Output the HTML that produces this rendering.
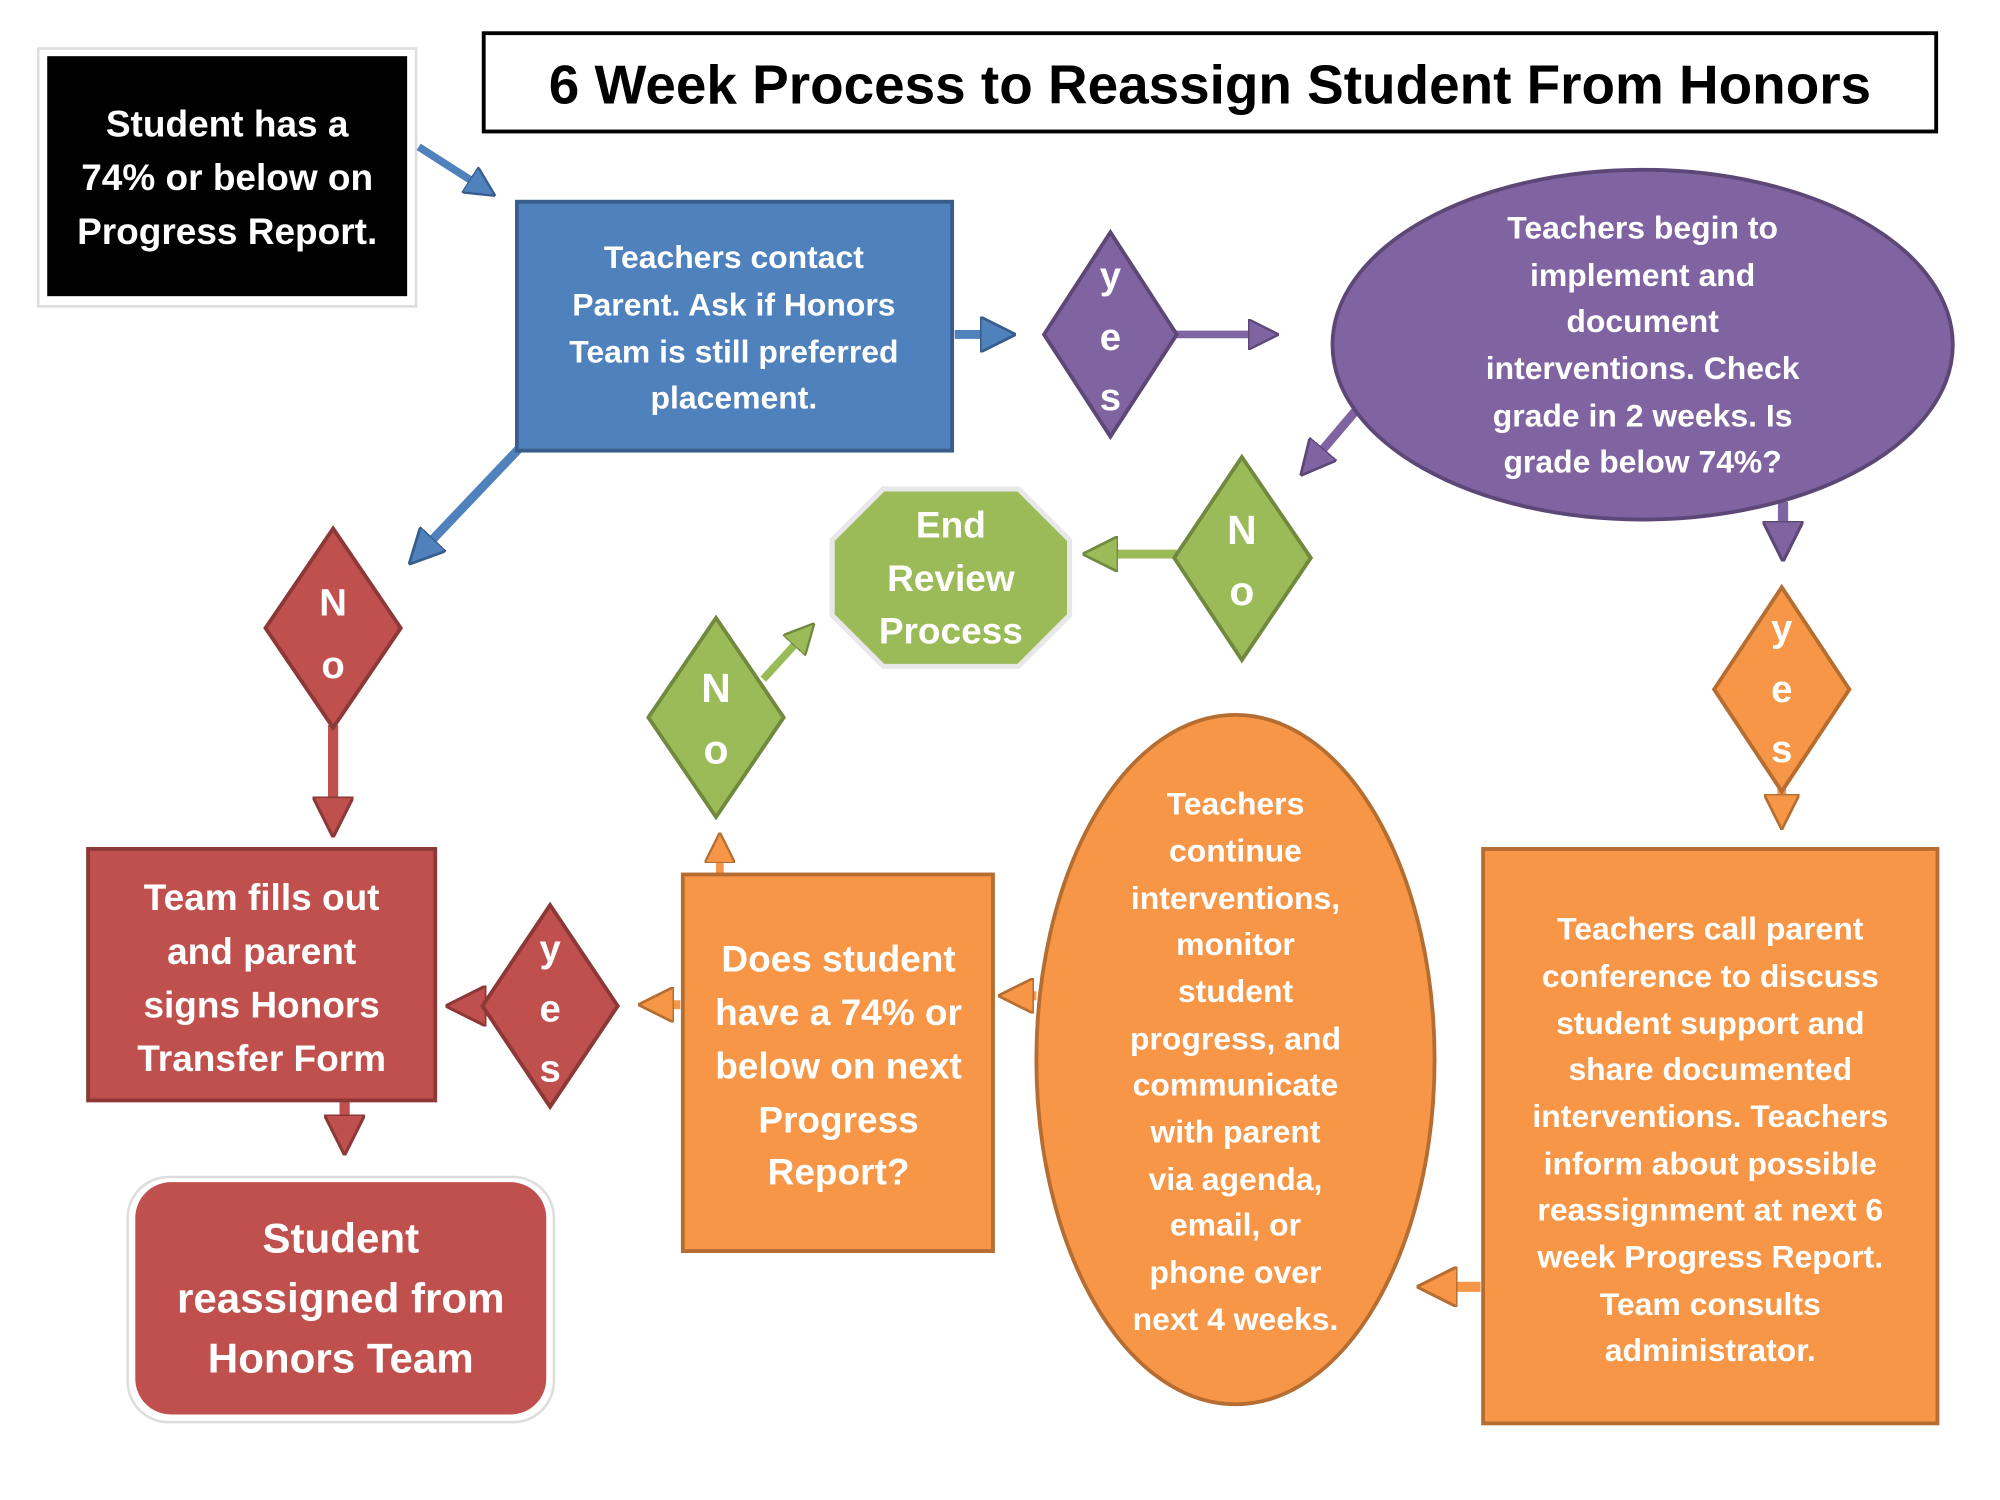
<!DOCTYPE html>
<html><head><meta charset="utf-8"><style>
html,body{margin:0;padding:0;background:#fff;}
svg{display:block;}
text{font-family:"Liberation Sans",sans-serif;font-weight:bold;fill:#fff;text-anchor:middle;}
</style></head><body>
<svg width="2000" height="1500" viewBox="0 0 1567 1175" preserveAspectRatio="none" xmlns="http://www.w3.org/2000/svg">
<defs>
<marker id="hb" markerWidth="4" markerHeight="4" refX="2" refY="2" orient="auto" markerUnits="strokeWidth"><path d="M0,0 L4,2 L0,4 Z" fill="#4F81BD" stroke="#385D8A" stroke-width="0.3"/></marker>
<marker id="hp" markerWidth="4" markerHeight="4" refX="2" refY="2" orient="auto" markerUnits="strokeWidth"><path d="M0,0 L4,2 L0,4 Z" fill="#8064A2" stroke="#5C4776" stroke-width="0.3"/></marker>
<marker id="hg" markerWidth="4" markerHeight="4" refX="2" refY="2" orient="auto" markerUnits="strokeWidth"><path d="M0,0 L4,2 L0,4 Z" fill="#9BBB59" stroke="#71893F" stroke-width="0.3"/></marker>
<marker id="hr" markerWidth="4" markerHeight="4" refX="2" refY="2" orient="auto" markerUnits="strokeWidth"><path d="M0,0 L4,2 L0,4 Z" fill="#C0504D" stroke="#8C3836" stroke-width="0.3"/></marker>
<marker id="ho" markerWidth="4" markerHeight="4" refX="2" refY="2" orient="auto" markerUnits="strokeWidth"><path d="M0,0 L4,2 L0,4 Z" fill="#F79646" stroke="#B66D31" stroke-width="0.3"/></marker>
</defs>

<rect x="30" y="38" width="296" height="202" fill="#fff" stroke="#ddd" stroke-width="2"/>
<rect x="37" y="44" width="282" height="188" fill="#000"/>
<text font-size="29" x="178" y="107">Student has a</text>
<text font-size="29" x="178" y="149">74% or below on</text>
<text font-size="29" x="178" y="191">Progress Report.</text>

<rect x="379" y="26" width="1138" height="77" fill="#fff" stroke="#000" stroke-width="3"/>
<text font-size="43" x="948" y="81" style="fill:#000">6 Week Process to Reassign Student From Honors</text>

<line x1="328" y1="115" x2="378" y2="147" stroke="#4F81BD" stroke-width="6" marker-end="url(#hb)"/>
<line x1="748" y1="262" x2="782" y2="262" stroke="#4F81BD" stroke-width="7" marker-end="url(#hb)"/>
<line x1="920" y1="262" x2="990" y2="262" stroke="#8064A2" stroke-width="6" marker-end="url(#hp)"/>
<line x1="1062" y1="322" x2="1028" y2="362" stroke="#8064A2" stroke-width="7" marker-end="url(#hp)"/>
<line x1="1397" y1="393" x2="1397" y2="424" stroke="#8064A2" stroke-width="8" marker-end="url(#hp)"/>
<line x1="922" y1="434" x2="862" y2="434" stroke="#9BBB59" stroke-width="7" marker-end="url(#hg)"/>
<line x1="598" y1="532" x2="630" y2="497" stroke="#9BBB59" stroke-width="6" marker-end="url(#hg)"/>
<line x1="564" y1="686" x2="564" y2="664" stroke="#F79646" stroke-width="6" marker-end="url(#ho)"/>
<line x1="408" y1="350" x2="330" y2="432" stroke="#4F81BD" stroke-width="7" marker-end="url(#hb)"/>
<line x1="261" y1="568" x2="261" y2="640" stroke="#C0504D" stroke-width="8" marker-end="url(#hr)"/>
<line x1="270" y1="862" x2="270" y2="889" stroke="#C0504D" stroke-width="8" marker-end="url(#hr)"/>
<line x1="383" y1="788" x2="365" y2="788" stroke="#C0504D" stroke-width="8" marker-end="url(#hr)"/>
<line x1="533" y1="787" x2="514" y2="787" stroke="#F79646" stroke-width="7" marker-end="url(#ho)"/>
<line x1="812" y1="780" x2="796" y2="780" stroke="#F79646" stroke-width="7" marker-end="url(#ho)"/>
<line x1="1396" y1="618" x2="1396" y2="636" stroke="#F79646" stroke-width="7" marker-end="url(#ho)"/>
<line x1="1160" y1="1008" x2="1126" y2="1008" stroke="#F79646" stroke-width="8" marker-end="url(#ho)"/>

<rect x="405" y="158" width="341" height="195" fill="#4F81BD" stroke="#385D8A" stroke-width="3"/>
<text font-size="25" x="575" y="210">Teachers contact</text>
<text font-size="25" x="575" y="247">Parent. Ask if Honors</text>
<text font-size="25" x="575" y="284">Team is still preferred</text>
<text font-size="25" x="575" y="320">placement.</text>

<polygon points="870,182 922,262 870,342 818,262" fill="#8064A2" stroke="#5C4776" stroke-width="3"/>
<text font-size="30" x="870" y="226">y</text>
<text font-size="30" x="870" y="274">e</text>
<text font-size="30" x="870" y="321">s</text>

<ellipse cx="1287" cy="270" rx="243" ry="137" fill="#8064A2" stroke="#5C4776" stroke-width="3"/>
<text font-size="25" x="1287" y="187">Teachers begin to</text>
<text font-size="25" x="1287" y="224">implement and</text>
<text font-size="25" x="1287" y="260">document</text>
<text font-size="25" x="1287" y="297">interventions. Check</text>
<text font-size="25" x="1287" y="334">grade in 2 weeks. Is</text>
<text font-size="25" x="1287" y="370">grade below 74%?</text>

<polygon points="973,358 1027,437 973,517 920,437" fill="#9BBB59" stroke="#71893F" stroke-width="3"/>
<text font-size="32" x="973" y="426">N</text>
<text font-size="32" x="973" y="474">o</text>

<polygon points="692,383 798,383 838,423 838,482 798,522 692,522 652,482 652,423" fill="#9BBB59" stroke="#e8e8e8" stroke-width="4"/>
<text font-size="29" x="745" y="421">End</text>
<text font-size="29" x="745" y="463">Review</text>
<text font-size="29" x="745" y="504">Process</text>

<polygon points="561,484 614,562 561,640 508,562" fill="#9BBB59" stroke="#71893F" stroke-width="3"/>
<text font-size="32" x="561" y="550">N</text>
<text font-size="32" x="561" y="598">o</text>

<polygon points="261,414 314,492 261,570 208,492" fill="#C0504D" stroke="#8C3836" stroke-width="3"/>
<text font-size="30" x="261" y="482">N</text>
<text font-size="30" x="261" y="531">o</text>

<rect x="69" y="665" width="272" height="197" fill="#C0504D" stroke="#8C3836" stroke-width="3"/>
<text font-size="29" x="205" y="713">Team fills out</text>
<text font-size="29" x="205" y="755">and parent</text>
<text font-size="29" x="205" y="797">signs Honors</text>
<text font-size="29" x="205" y="839">Transfer Form</text>

<rect x="100" y="922" width="334" height="192" rx="32" fill="#fff" stroke="#ddd" stroke-width="2"/>
<rect x="106" y="926" width="322" height="182" rx="28" fill="#C0504D"/>
<text font-size="33" x="267" y="981">Student</text>
<text font-size="33" x="267" y="1028">reassigned from</text>
<text font-size="33" x="267" y="1075">Honors Team</text>

<polygon points="431,709 484,788 431,867 378,788" fill="#C0504D" stroke="#8C3836" stroke-width="3"/>
<text font-size="30" x="431" y="753">y</text>
<text font-size="30" x="431" y="800">e</text>
<text font-size="30" x="431" y="847">s</text>

<rect x="535" y="685" width="243" height="295" fill="#F79646" stroke="#B66D31" stroke-width="3"/>
<text font-size="29" x="657" y="761">Does student</text>
<text font-size="29" x="657" y="803">have a 74% or</text>
<text font-size="29" x="657" y="845">below on next</text>
<text font-size="29" x="657" y="887">Progress</text>
<text font-size="29" x="657" y="928">Report?</text>

<ellipse cx="968" cy="830" rx="156" ry="270" fill="#F79646" stroke="#B66D31" stroke-width="3"/>
<text font-size="25" x="968" y="638">Teachers</text>
<text font-size="25" x="968" y="675">continue</text>
<text font-size="25" x="968" y="712">interventions,</text>
<text font-size="25" x="968" y="748">monitor</text>
<text font-size="25" x="968" y="785">student</text>
<text font-size="25" x="968" y="822">progress, and</text>
<text font-size="25" x="968" y="858">communicate</text>
<text font-size="25" x="968" y="895">with parent</text>
<text font-size="25" x="968" y="932">via agenda,</text>
<text font-size="25" x="968" y="968">email, or</text>
<text font-size="25" x="968" y="1005">phone over</text>
<text font-size="25" x="968" y="1042">next 4 weeks.</text>

<polygon points="1396,460 1449,540 1396,620 1343,540" fill="#F79646" stroke="#B66D31" stroke-width="3"/>
<text font-size="30" x="1396" y="502">y</text>
<text font-size="30" x="1396" y="550">e</text>
<text font-size="30" x="1396" y="597">s</text>

<rect x="1162" y="665" width="356" height="450" fill="#F79646" stroke="#B66D31" stroke-width="3"/>
<text font-size="25" x="1340" y="736">Teachers call parent</text>
<text font-size="25" x="1340" y="773">conference to discuss</text>
<text font-size="25" x="1340" y="810">student support and</text>
<text font-size="25" x="1340" y="846">share documented</text>
<text font-size="25" x="1340" y="883">interventions. Teachers</text>
<text font-size="25" x="1340" y="920">inform about  possible</text>
<text font-size="25" x="1340" y="956">reassignment at next 6</text>
<text font-size="25" x="1340" y="993">week Progress Report.</text>
<text font-size="25" x="1340" y="1030">Team consults</text>
<text font-size="25" x="1340" y="1066">administrator.</text>
</svg>
</body></html>
